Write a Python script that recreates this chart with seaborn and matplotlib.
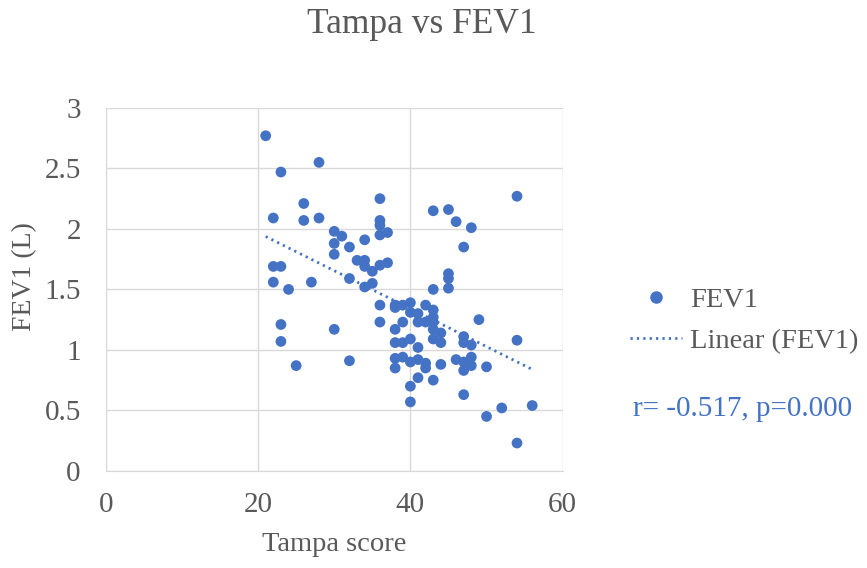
import matplotlib
matplotlib.use("Agg")
import matplotlib.pyplot as plt
from matplotlib.lines import Line2D
import seaborn as sns
import pandas as pd
import numpy as np

# Tampa score (x) and FEV1 in litres (y)
tampa = [21, 23, 28, 22, 26, 26, 28, 30, 31, 30, 34, 32, 30, 33, 34, 34, 35,
         22, 23, 22, 27, 24, 32, 34, 35, 36, 37,
         23, 23, 30, 25, 32,
         36, 36, 36, 36, 37, 43, 45, 46, 48, 54, 47, 45, 45, 45, 43,
         36, 36, 38, 38, 39, 40, 40, 41, 42, 43, 43, 41, 42, 43, 39, 38, 43,
         44, 43, 44, 38, 39, 40, 41, 38, 39, 38, 40, 41, 42, 42, 44, 41, 43,
         40, 40, 47, 47, 48, 46, 47, 48, 48, 47, 49, 50, 54, 47, 50, 52, 56, 54]
fev1 = [2.77, 2.47, 2.55, 2.09, 2.21, 2.07, 2.09, 1.98, 1.94, 1.88, 1.91, 1.85, 1.79, 1.74, 1.74, 1.69, 1.65,
        1.69, 1.69, 1.56, 1.56, 1.50, 1.59, 1.52, 1.55, 1.70, 1.72,
        1.21, 1.07, 1.17, 0.87, 0.91,
        2.25, 2.07, 2.03, 1.95, 1.97, 2.15, 2.16, 2.06, 2.01, 2.27, 1.85, 1.63, 1.59, 1.51, 1.50,
        1.37, 1.23, 1.37, 1.35, 1.37, 1.39, 1.31, 1.30, 1.37, 1.33, 1.27, 1.23, 1.23, 1.23, 1.23, 1.17, 1.17,
        1.14, 1.09, 1.06, 1.06, 1.06, 1.09, 1.02, 0.93, 0.94, 0.85, 0.90, 0.92, 0.89, 0.85, 0.88, 0.77, 0.75,
        0.70, 0.57, 1.11, 1.06, 1.04, 0.92, 0.90, 0.94, 0.87, 0.83, 1.25, 0.86, 1.08, 0.63, 0.45, 0.52, 0.54, 0.23]

df = pd.DataFrame({"tampa": tampa, "fev1": fev1})

blue = "#4472C4"
grey = "#595959"
dots = (0, (0.8, 1.5))
plt.rcParams['font.family'] = ['Liberation Serif', 'DejaVu Serif']

fig = plt.figure(figsize=(8.67, 5.68), dpi=100)
ax = fig.add_axes([0.122, 0.171, 0.527, 0.639])

sns.scatterplot(data=df, x="tampa", y="fev1", ax=ax, color=blue, s=60,
                edgecolor="none", zorder=3)
sns.regplot(data=df, x="tampa", y="fev1", ax=ax, scatter=False, ci=None,
            color=blue, line_kws={"linestyle": dots, "linewidth": 2})

ax.set_xlim(0, 60)
ax.set_ylim(0, 3)
ax.set_xticks([0, 20, 40, 60])
ax.set_yticks([0, 0.5, 1, 1.5, 2, 2.5, 3])
ax.set_yticklabels(["0", "0.5", "1", "1.5", "2", "2.5", "3"])
ax.grid(True, color="#d9d9d9", linewidth=1)
ax.set_axisbelow(True)
for side in ["top", "right"]:
    ax.spines[side].set_visible(False)
for side in ["left", "bottom"]:
    ax.spines[side].set_color("#d9d9d9")
ax.tick_params(length=0, labelsize=21, colors=grey)
ax.tick_params(axis="x", pad=15)
ax.tick_params(axis="y", pad=18)

ax.set_xlabel("Tampa score", fontsize=20.5, color=grey, labelpad=10)
ax.set_ylabel("FEV1 (L)", fontsize=20, color=grey)
ax.yaxis.set_label_coords(-0.151, 0.534)
fig.text(0.487, 0.957, "Tampa vs FEV1", ha="center", va="center", fontsize=25.5, color=grey)

handles = [Line2D([], [], marker="o", color=blue, linestyle="none", markersize=8),
           Line2D([], [], color=blue, linestyle=dots, linewidth=2)]
fig.legend(handles, ["FEV1", "Linear (FEV1)"], loc="center left",
           bbox_to_anchor=(0.727, 0.436), frameon=False, fontsize=20.5,
           labelcolor=grey, handlelength=1.8, handletextpad=0.3,
           labelspacing=0.52, borderpad=0, borderaxespad=0)

fig.text(0.730, 0.28, "r= -0.517, p=0.000", fontsize=21, color=blue, va="center")

fig.savefig("out.png", dpi=100)
